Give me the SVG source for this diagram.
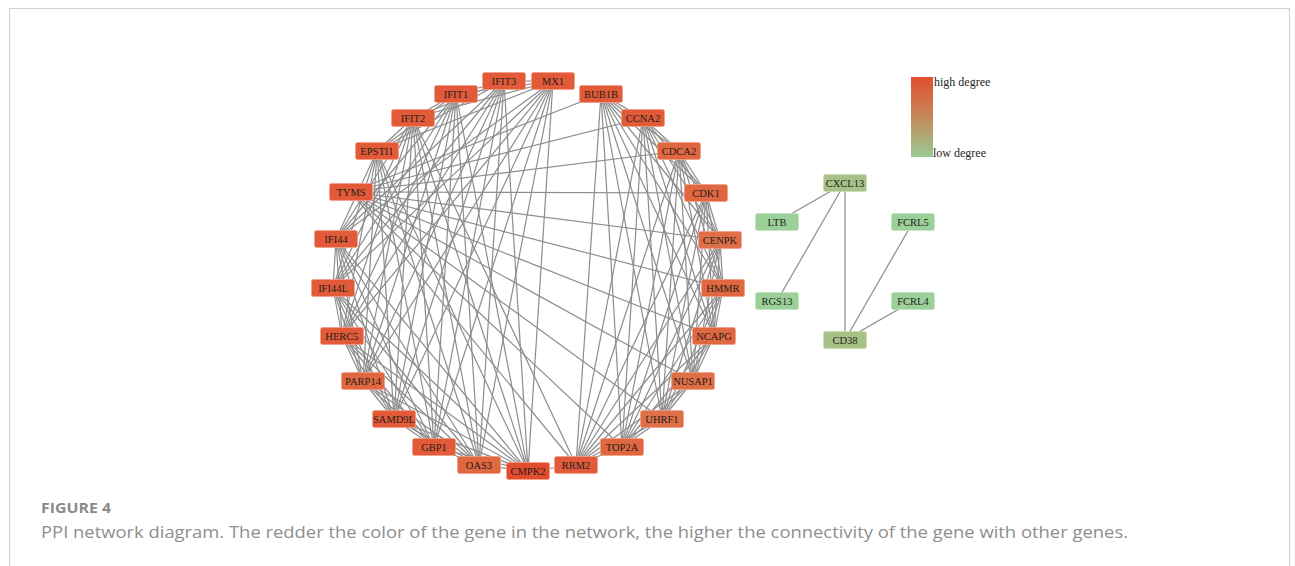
<svg xmlns="http://www.w3.org/2000/svg" width="1295" height="566" viewBox="0 0 1295 566">
<style>
.e{stroke:#8c8c8c;stroke-width:1.2;fill:none}
.n rect{stroke:#f3a088;stroke-width:0.8}
.n text{font-family:"Liberation Serif","Times New Roman",serif;font-size:10.5px;fill:#1e1e1e;text-anchor:middle}
.r1 rect{fill:#E25A38}
.r2 rect{fill:#E0673F}
.r3 rect{fill:#DF6F47}
.r0 rect{fill:#E44C2F}
.g1 rect{fill:#A8C186;stroke:#c9dab2}
.g2 rect{fill:#9BD099;stroke:#c2e4c0}
.lg{font-family:"Liberation Serif","Times New Roman",serif;font-size:12px;fill:#1e1e1e}
</style>
<defs>
<linearGradient id="deg" x1="0" y1="0" x2="0" y2="1">
<stop offset="0" stop-color="#E24E31"/>
<stop offset="0.5" stop-color="#C58858"/>
<stop offset="1" stop-color="#98CC96"/>
</linearGradient>
</defs>
<rect x="0" y="0" width="1295" height="566" fill="#ffffff"/>
<rect x="9.5" y="8.5" width="1280" height="600" fill="none" stroke="#cfcfcf" stroke-width="1"/>
<g id="connectors">
<line class="e" x1="504" y1="81" x2="553" y2="81"/>
<line class="e" x1="504" y1="81" x2="456" y2="94"/>
<line class="e" x1="504" y1="81" x2="413" y2="118"/>
<line class="e" x1="504" y1="81" x2="377" y2="151"/>
<line class="e" x1="504" y1="81" x2="336" y2="239"/>
<line class="e" x1="504" y1="81" x2="333" y2="288"/>
<line class="e" x1="504" y1="81" x2="342" y2="336"/>
<line class="e" x1="504" y1="81" x2="363" y2="381"/>
<line class="e" x1="504" y1="81" x2="394" y2="419"/>
<line class="e" x1="504" y1="81" x2="434" y2="447"/>
<line class="e" x1="504" y1="81" x2="479" y2="465"/>
<line class="e" x1="504" y1="81" x2="528" y2="471"/>
<line class="e" x1="553" y1="81" x2="456" y2="94"/>
<line class="e" x1="553" y1="81" x2="413" y2="118"/>
<line class="e" x1="553" y1="81" x2="377" y2="151"/>
<line class="e" x1="553" y1="81" x2="336" y2="239"/>
<line class="e" x1="553" y1="81" x2="333" y2="288"/>
<line class="e" x1="553" y1="81" x2="342" y2="336"/>
<line class="e" x1="553" y1="81" x2="363" y2="381"/>
<line class="e" x1="553" y1="81" x2="394" y2="419"/>
<line class="e" x1="553" y1="81" x2="434" y2="447"/>
<line class="e" x1="553" y1="81" x2="479" y2="465"/>
<line class="e" x1="553" y1="81" x2="528" y2="471"/>
<line class="e" x1="456" y1="94" x2="413" y2="118"/>
<line class="e" x1="456" y1="94" x2="377" y2="151"/>
<line class="e" x1="456" y1="94" x2="336" y2="239"/>
<line class="e" x1="456" y1="94" x2="333" y2="288"/>
<line class="e" x1="456" y1="94" x2="342" y2="336"/>
<line class="e" x1="456" y1="94" x2="363" y2="381"/>
<line class="e" x1="456" y1="94" x2="394" y2="419"/>
<line class="e" x1="456" y1="94" x2="434" y2="447"/>
<line class="e" x1="456" y1="94" x2="479" y2="465"/>
<line class="e" x1="456" y1="94" x2="528" y2="471"/>
<line class="e" x1="413" y1="118" x2="377" y2="151"/>
<line class="e" x1="413" y1="118" x2="336" y2="239"/>
<line class="e" x1="413" y1="118" x2="333" y2="288"/>
<line class="e" x1="413" y1="118" x2="342" y2="336"/>
<line class="e" x1="413" y1="118" x2="363" y2="381"/>
<line class="e" x1="413" y1="118" x2="394" y2="419"/>
<line class="e" x1="413" y1="118" x2="434" y2="447"/>
<line class="e" x1="413" y1="118" x2="479" y2="465"/>
<line class="e" x1="413" y1="118" x2="528" y2="471"/>
<line class="e" x1="377" y1="151" x2="336" y2="239"/>
<line class="e" x1="377" y1="151" x2="333" y2="288"/>
<line class="e" x1="377" y1="151" x2="342" y2="336"/>
<line class="e" x1="377" y1="151" x2="363" y2="381"/>
<line class="e" x1="377" y1="151" x2="394" y2="419"/>
<line class="e" x1="377" y1="151" x2="434" y2="447"/>
<line class="e" x1="377" y1="151" x2="479" y2="465"/>
<line class="e" x1="377" y1="151" x2="528" y2="471"/>
<line class="e" x1="336" y1="239" x2="333" y2="288"/>
<line class="e" x1="336" y1="239" x2="342" y2="336"/>
<line class="e" x1="336" y1="239" x2="363" y2="381"/>
<line class="e" x1="336" y1="239" x2="394" y2="419"/>
<line class="e" x1="336" y1="239" x2="434" y2="447"/>
<line class="e" x1="336" y1="239" x2="479" y2="465"/>
<line class="e" x1="336" y1="239" x2="528" y2="471"/>
<line class="e" x1="333" y1="288" x2="342" y2="336"/>
<line class="e" x1="333" y1="288" x2="363" y2="381"/>
<line class="e" x1="333" y1="288" x2="394" y2="419"/>
<line class="e" x1="333" y1="288" x2="434" y2="447"/>
<line class="e" x1="333" y1="288" x2="479" y2="465"/>
<line class="e" x1="333" y1="288" x2="528" y2="471"/>
<line class="e" x1="342" y1="336" x2="363" y2="381"/>
<line class="e" x1="342" y1="336" x2="394" y2="419"/>
<line class="e" x1="342" y1="336" x2="434" y2="447"/>
<line class="e" x1="342" y1="336" x2="479" y2="465"/>
<line class="e" x1="342" y1="336" x2="528" y2="471"/>
<line class="e" x1="363" y1="381" x2="394" y2="419"/>
<line class="e" x1="363" y1="381" x2="434" y2="447"/>
<line class="e" x1="363" y1="381" x2="479" y2="465"/>
<line class="e" x1="363" y1="381" x2="528" y2="471"/>
<line class="e" x1="394" y1="419" x2="434" y2="447"/>
<line class="e" x1="394" y1="419" x2="479" y2="465"/>
<line class="e" x1="394" y1="419" x2="528" y2="471"/>
<line class="e" x1="434" y1="447" x2="479" y2="465"/>
<line class="e" x1="434" y1="447" x2="528" y2="471"/>
<line class="e" x1="479" y1="465" x2="528" y2="471"/>
<line class="e" x1="601" y1="94" x2="643" y2="118"/>
<line class="e" x1="601" y1="94" x2="679" y2="151"/>
<line class="e" x1="601" y1="94" x2="706" y2="193"/>
<line class="e" x1="601" y1="94" x2="720" y2="240"/>
<line class="e" x1="601" y1="94" x2="723" y2="288"/>
<line class="e" x1="601" y1="94" x2="714" y2="336"/>
<line class="e" x1="601" y1="94" x2="693" y2="381"/>
<line class="e" x1="601" y1="94" x2="662" y2="419"/>
<line class="e" x1="601" y1="94" x2="622" y2="447"/>
<line class="e" x1="601" y1="94" x2="576" y2="465"/>
<line class="e" x1="601" y1="94" x2="351" y2="192"/>
<line class="e" x1="643" y1="118" x2="679" y2="151"/>
<line class="e" x1="643" y1="118" x2="706" y2="193"/>
<line class="e" x1="643" y1="118" x2="720" y2="240"/>
<line class="e" x1="643" y1="118" x2="723" y2="288"/>
<line class="e" x1="643" y1="118" x2="714" y2="336"/>
<line class="e" x1="643" y1="118" x2="693" y2="381"/>
<line class="e" x1="643" y1="118" x2="662" y2="419"/>
<line class="e" x1="643" y1="118" x2="622" y2="447"/>
<line class="e" x1="643" y1="118" x2="576" y2="465"/>
<line class="e" x1="643" y1="118" x2="351" y2="192"/>
<line class="e" x1="679" y1="151" x2="706" y2="193"/>
<line class="e" x1="679" y1="151" x2="720" y2="240"/>
<line class="e" x1="679" y1="151" x2="723" y2="288"/>
<line class="e" x1="679" y1="151" x2="714" y2="336"/>
<line class="e" x1="679" y1="151" x2="693" y2="381"/>
<line class="e" x1="679" y1="151" x2="662" y2="419"/>
<line class="e" x1="679" y1="151" x2="622" y2="447"/>
<line class="e" x1="679" y1="151" x2="576" y2="465"/>
<line class="e" x1="679" y1="151" x2="351" y2="192"/>
<line class="e" x1="706" y1="193" x2="720" y2="240"/>
<line class="e" x1="706" y1="193" x2="723" y2="288"/>
<line class="e" x1="706" y1="193" x2="714" y2="336"/>
<line class="e" x1="706" y1="193" x2="693" y2="381"/>
<line class="e" x1="706" y1="193" x2="662" y2="419"/>
<line class="e" x1="706" y1="193" x2="622" y2="447"/>
<line class="e" x1="706" y1="193" x2="576" y2="465"/>
<line class="e" x1="706" y1="193" x2="351" y2="192"/>
<line class="e" x1="720" y1="240" x2="723" y2="288"/>
<line class="e" x1="720" y1="240" x2="714" y2="336"/>
<line class="e" x1="720" y1="240" x2="693" y2="381"/>
<line class="e" x1="720" y1="240" x2="662" y2="419"/>
<line class="e" x1="720" y1="240" x2="622" y2="447"/>
<line class="e" x1="720" y1="240" x2="576" y2="465"/>
<line class="e" x1="720" y1="240" x2="351" y2="192"/>
<line class="e" x1="723" y1="288" x2="714" y2="336"/>
<line class="e" x1="723" y1="288" x2="693" y2="381"/>
<line class="e" x1="723" y1="288" x2="662" y2="419"/>
<line class="e" x1="723" y1="288" x2="622" y2="447"/>
<line class="e" x1="723" y1="288" x2="576" y2="465"/>
<line class="e" x1="723" y1="288" x2="351" y2="192"/>
<line class="e" x1="714" y1="336" x2="693" y2="381"/>
<line class="e" x1="714" y1="336" x2="662" y2="419"/>
<line class="e" x1="714" y1="336" x2="622" y2="447"/>
<line class="e" x1="714" y1="336" x2="576" y2="465"/>
<line class="e" x1="714" y1="336" x2="351" y2="192"/>
<line class="e" x1="693" y1="381" x2="662" y2="419"/>
<line class="e" x1="693" y1="381" x2="622" y2="447"/>
<line class="e" x1="693" y1="381" x2="576" y2="465"/>
<line class="e" x1="693" y1="381" x2="351" y2="192"/>
<line class="e" x1="662" y1="419" x2="622" y2="447"/>
<line class="e" x1="662" y1="419" x2="576" y2="465"/>
<line class="e" x1="662" y1="419" x2="351" y2="192"/>
<line class="e" x1="622" y1="447" x2="576" y2="465"/>
<line class="e" x1="622" y1="447" x2="351" y2="192"/>
<line class="e" x1="576" y1="465" x2="351" y2="192"/>
<line class="e" x1="413" y1="118" x2="576" y2="465"/>
<line class="e" x1="528" y1="471" x2="576" y2="465"/>
<line class="e" x1="845" y1="183" x2="777" y2="222"/>
<line class="e" x1="845" y1="183" x2="777" y2="301"/>
<line class="e" x1="845" y1="183" x2="845" y2="340"/>
<line class="e" x1="845" y1="340" x2="913" y2="222"/>
<line class="e" x1="845" y1="340" x2="913" y2="301"/>
</g>
<g id="IFIT3" class="n r1"><rect x="482.5" y="72.5" width="43" height="17" rx="2"/><text x="504" y="85">IFIT3</text></g>
<g id="MX1" class="n r1"><rect x="531.5" y="72.5" width="43" height="17" rx="2"/><text x="553" y="85">MX1</text></g>
<g id="IFIT1" class="n r1"><rect x="434.5" y="85.5" width="43" height="17" rx="2"/><text x="456" y="98">IFIT1</text></g>
<g id="BUB1B" class="n r1"><rect x="579.5" y="85.5" width="43" height="17" rx="2"/><text x="601" y="98">BUB1B</text></g>
<g id="IFIT2" class="n r1"><rect x="391.5" y="109.5" width="43" height="17" rx="2"/><text x="413" y="122">IFIT2</text></g>
<g id="CCNA2" class="n r1"><rect x="621.5" y="109.5" width="43" height="17" rx="2"/><text x="643" y="122">CCNA2</text></g>
<g id="EPSTI1" class="n r1"><rect x="355.5" y="142.5" width="43" height="17" rx="2"/><text x="377" y="155">EPSTI1</text></g>
<g id="CDCA2" class="n r2"><rect x="657.5" y="142.5" width="43" height="17" rx="2"/><text x="679" y="155">CDCA2</text></g>
<g id="TYMS" class="n r1"><rect x="329.5" y="183.5" width="43" height="17" rx="2"/><text x="351" y="196">TYMS</text></g>
<g id="CDK1" class="n r2"><rect x="684.5" y="184.5" width="43" height="17" rx="2"/><text x="706" y="197">CDK1</text></g>
<g id="IFI44" class="n r1"><rect x="314.5" y="230.5" width="43" height="17" rx="2"/><text x="336" y="243">IFI44</text></g>
<g id="CENPK" class="n r3"><rect x="698.5" y="231.5" width="43" height="17" rx="2"/><text x="720" y="244">CENPK</text></g>
<g id="IFI44L" class="n r1"><rect x="311.5" y="279.5" width="43" height="17" rx="2"/><text x="333" y="292">IFI44L</text></g>
<g id="HMMR" class="n r2"><rect x="701.5" y="279.5" width="43" height="17" rx="2"/><text x="723" y="292">HMMR</text></g>
<g id="HERC5" class="n r1"><rect x="320.5" y="327.5" width="43" height="17" rx="2"/><text x="342" y="340">HERC5</text></g>
<g id="NCAPG" class="n r2"><rect x="692.5" y="327.5" width="43" height="17" rx="2"/><text x="714" y="340">NCAPG</text></g>
<g id="PARP14" class="n r2"><rect x="341.5" y="372.5" width="43" height="17" rx="2"/><text x="363" y="385">PARP14</text></g>
<g id="NUSAP1" class="n r3"><rect x="671.5" y="372.5" width="43" height="17" rx="2"/><text x="693" y="385">NUSAP1</text></g>
<g id="SAMD9L" class="n r1"><rect x="372.5" y="410.5" width="43" height="17" rx="2"/><text x="394" y="423">SAMD9L</text></g>
<g id="UHRF1" class="n r3"><rect x="640.5" y="410.5" width="43" height="17" rx="2"/><text x="662" y="423">UHRF1</text></g>
<g id="GBP1" class="n r1"><rect x="412.5" y="438.5" width="43" height="17" rx="2"/><text x="434" y="451">GBP1</text></g>
<g id="TOP2A" class="n r2"><rect x="600.5" y="438.5" width="43" height="17" rx="2"/><text x="622" y="451">TOP2A</text></g>
<g id="OAS3" class="n r2"><rect x="457.5" y="456.5" width="43" height="17" rx="2"/><text x="479" y="469">OAS3</text></g>
<g id="CMPK2" class="n r0"><rect x="506.5" y="462.5" width="43" height="17" rx="2"/><text x="528" y="475">CMPK2</text></g>
<g id="RRM2" class="n r1"><rect x="554.5" y="456.5" width="43" height="17" rx="2"/><text x="576" y="469">RRM2</text></g>
<g id="CXCL13" class="n g1"><rect x="823.5" y="174.5" width="43" height="17" rx="2"/><text x="845" y="187">CXCL13</text></g>
<g id="LTB" class="n g2"><rect x="755.5" y="213.5" width="43" height="17" rx="2"/><text x="777" y="226">LTB</text></g>
<g id="FCRL5" class="n g2"><rect x="891.5" y="213.5" width="43" height="17" rx="2"/><text x="913" y="226">FCRL5</text></g>
<g id="RGS13" class="n g2"><rect x="755.5" y="292.5" width="43" height="17" rx="2"/><text x="777" y="305">RGS13</text></g>
<g id="FCRL4" class="n g2"><rect x="891.5" y="292.5" width="43" height="17" rx="2"/><text x="913" y="305">FCRL4</text></g>
<g id="CD38" class="n g1"><rect x="823.5" y="331.5" width="43" height="17" rx="2"/><text x="845" y="344">CD38</text></g>
<g id="legend">
<rect x="911" y="77" width="22" height="80" fill="url(#deg)"/>
<text class="lg" x="934" y="86">high degree</text>
<text class="lg" x="933" y="157">low degree</text>
</g>
<g id="caption">
<text x="41" y="513" font-family="'Open Sans','Noto Sans',sans-serif" font-weight="bold" font-size="14" fill="#8a8a8a" textLength="70" lengthAdjust="spacingAndGlyphs">FIGURE 4</text>
<text x="41" y="538" font-family="'Open Sans','Noto Sans',sans-serif" font-size="17" fill="#8e8e8e" textLength="1087" lengthAdjust="spacingAndGlyphs">PPI network diagram. The redder the color of the gene in the network, the higher the connectivity of the gene with other genes.</text>
</g>
</svg>
